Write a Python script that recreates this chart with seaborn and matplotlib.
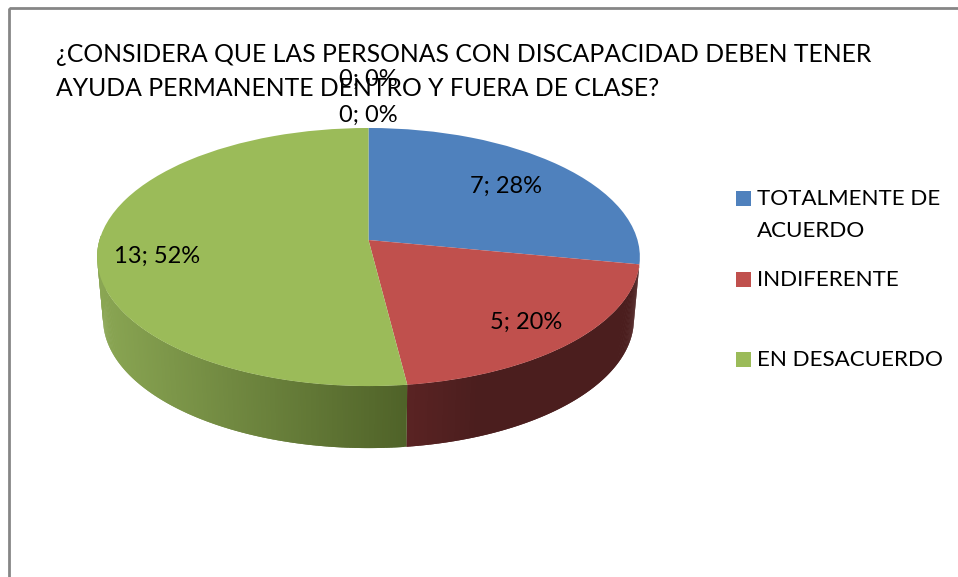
import numpy as np
import seaborn as sns
import matplotlib.pyplot as plt
from matplotlib.colors import to_rgb
from matplotlib.patches import Rectangle
from matplotlib.transforms import Affine2D, Transform

sns.set_theme(style='white')
plt.rcParams['font.family'] = ['Lato', 'DejaVu Sans']

values = [7, 5, 0, 0, 13]
percents = [28, 20, 0, 0, 52]
legend_rows = [['TOTALMENTE DE', 'ACUERDO'], ['INDIFERENTE'], ['EN DESACUERDO']]
title_lines = ['¿CONSIDERA QUE LAS PERSONAS CON DISCAPACIDAD DEBEN TENER',
               'AYUDA PERMANENTE DENTRO Y FUERA DE CLASE?']
top_colors = ['#4f81bd', '#c0504d', '#8064a2', '#4bacc6', '#9bbb59']
side_dark = {1: '#4b1e1e', 4: '#4f6228'}
side_light = {1: '#5a2323', 4: '#8aa653'}

W, H = 958, 577
K = 0.132


class Tilt(Transform):
    # disc seen in perspective, the near edge looks bigger
    input_dims = output_dims = 2

    def transform_non_affine(self, xy):
        xy = np.asarray(xy)
        w = 1 + K * xy[:, 1]
        return np.column_stack([xy[:, 0] / w, xy[:, 1] / w])

    def inverted(self):
        raise NotImplementedError


def main():
    fig = plt.figure(figsize=(W / 100, H / 100), dpi=100, facecolor='white')
    ax = fig.add_axes([0, 0, 1, 1])
    wedges, _ = ax.pie(values, colors=sns.color_palette(top_colors), startangle=90, counterclock=False)
    ax.set_aspect('auto')
    ax.set_xlim(0, W)
    ax.set_ylim(H, 0)
    ax.axis('off')

    # unit disc to pixels
    to_px = Affine2D().scale(269, -126.8).translate(368.5, 240)
    tilt = Tilt()
    disc = tilt + to_px + ax.transData
    for w in wedges:
        w.set_transform(disc)
        w.set_edgecolor('none')
        w.set_zorder(3)
        w.set_clip_on(False)

    # side wall, only the front part of the disc shows
    depth = 62
    shrink = 0.978
    t = 0.0
    total = sum(values)
    for i, v in enumerate(values):
        a0, a1 = t, t + 360 * v / total
        t = a1
        lo, hi = max(a0, 90), min(a1, 272)
        if i not in side_dark or lo >= hi:
            continue
        steps = np.linspace(lo, hi, int(hi - lo) * 2 + 2)
        light, dark = np.array(to_rgb(side_light[i])), np.array(to_rgb(side_dark[i]))
        # each sliver runs on under the next one so no seams show
        for j, s0 in enumerate(steps[:-1]):
            s1 = steps[min(j + 2, len(steps) - 1)]
            th = np.radians(np.linspace(s0, s1, 4))
            pts = np.column_stack([np.sin(th), np.cos(th)])
            px = to_px.transform(tilt.transform(pts))
            low = px.copy()
            low[:, 0] = 368.5 + (low[:, 0] - 368.5) * shrink
            low[:, 1] += depth
            mid = px[:, 0].mean()
            if i == 4:
                frac = np.clip((mid - 97) / 310, 0, 1)
            else:
                frac = np.clip((mid - 407) / 70, 0, 1)
            col = light + (dark - light) * frac
            poly = np.vstack([px, low[::-1]])
            ax.fill(poly[:, 0], poly[:, 1], color=col, lw=0, zorder=2)

    # chart frame
    ax.add_patch(Rectangle((9.5, 7.5), W, H, fill=False, ec='#868686', lw=2, zorder=1))

    # chart heading is cut by the page edge, only its foot peeks in
    ax.text(466, -2, 'Gráfico', fontsize=22, color='#404040', va='baseline', ha='center', clip_on=True)

    ax.text(56, 54, title_lines[0], fontsize=17.8, color='black', va='center', ha='left', zorder=6)
    ax.text(56, 89, title_lines[1], fontsize=17.8, color='black', va='center', ha='left', zorder=6)

    label_pos = [(506, 186), (526, 322), (368, 79), (368, 115), (157, 256)]
    for v, p, (x, y) in zip(values, percents, label_pos):
        ax.text(x, y, f'{v}; {p}%', fontsize=17, ha='center', va='center', color='black', zorder=7)

    # legend placed by hand, entries are not evenly spaced in the source
    swatches = [top_colors[0], top_colors[1], top_colors[4]]
    for rows, c, y in zip(legend_rows, swatches, [198, 279, 359]):
        ax.add_patch(Rectangle((736, y - 7.5), 15, 15, fc=c, ec='none', zorder=6))
        for k, row in enumerate(rows):
            ax.text(757, y + 1 + k * 32, row, fontsize=16.1, va='center', ha='left', color='black')

    fig.savefig('out.png', dpi=100)


if __name__ == '__main__':
    main()
